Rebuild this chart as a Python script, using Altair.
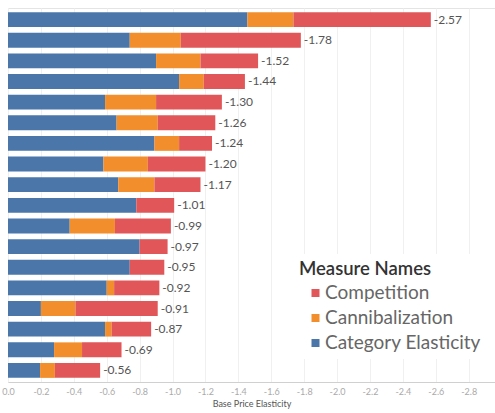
import altair as alt
import pandas as pd

rows = [f"P{i:02d}" for i in range(1, 19)]
totals = [-2.57, -1.78, -1.52, -1.44, -1.30, -1.26, -1.24, -1.20, -1.17,
          -1.01, -0.99, -0.97, -0.95, -0.92, -0.91, -0.87, -0.69, -0.56]
category_elasticity = [-1.455, -0.74, -0.90, -1.04, -0.59, -0.66, -0.89, -0.58, -0.67,
                       -0.78, -0.375, -0.80, -0.74, -0.60, -0.20, -0.59, -0.28, -0.195]
cannibalization = [-0.28, -0.31, -0.27, -0.15, -0.31, -0.25, -0.15, -0.27, -0.22,
                   0.0, -0.275, 0.0, 0.0, -0.045, -0.21, -0.04, -0.17, -0.09]
competition = [-0.835, -0.73, -0.35, -0.25, -0.40, -0.35, -0.20, -0.35, -0.28,
               -0.23, -0.34, -0.17, -0.21, -0.275, -0.50, -0.24, -0.24, -0.275]
tick_values = [0.0, -0.2, -0.4, -0.6, -0.8, -1.0, -1.2, -1.4, -1.6, -1.8,
               -2.0, -2.2, -2.4, -2.6, -2.8, -3.0]
measures = ["Competition", "Cannibalization", "Category Elasticity"]
colors = ["#e15759", "#f28e2b", "#4a76aa"]

recs = []
for i, r in enumerate(rows):
    recs.append({"row": r, "measure": "Category Elasticity", "value": category_elasticity[i], "ord": 0})
    recs.append({"row": r, "measure": "Cannibalization", "value": cannibalization[i], "ord": 1})
    recs.append({"row": r, "measure": "Competition", "value": competition[i], "ord": 2})
df = pd.DataFrame(recs)
tot = pd.DataFrame({"row": rows, "total": totals, "label": [f"{v:.2f}" for v in totals]})

FONT = "Lato"
xscale = alt.Scale(domain=[0, -2.96], nice=False, zero=False)
xaxis = alt.Axis(values=tick_values, labelOverlap=False, labelBound=False, labelFlush=False,
                 labelExpr="datum.value == 0 ? '0.0' : '-' + format(-datum.value, '.1f')",
                 title="Base Price Elasticity", ticks=False, grid=True,
                 gridColor="#f0f0f0", domainColor="#d0d0d0",
                 labelColor="#aaaaaa", labelFontSize=9, labelPadding=5,
                 titleColor="#555555", titleFontSize=9, titleFontWeight="normal",
                 titlePadding=3)
yenc = alt.Y("row:N", sort=rows,
             scale=alt.Scale(paddingInner=0.28, paddingOuter=0.2),
             axis=alt.Axis(labels=False, ticks=False, title=None, domain=False, grid=False))

bars = alt.Chart(df).mark_bar().encode(
    x=alt.X("value:Q", stack="zero", scale=xscale, axis=xaxis),
    y=yenc,
    color=alt.Color("measure:N", scale=alt.Scale(domain=measures, range=colors),
                    legend=alt.Legend(title="Measure Names", orient="none",
                                      legendX=285, legendY=246)),
    order=alt.Order("ord:Q"),
)

text = alt.Chart(tot).mark_text(align="left", baseline="middle", dx=3,
                                fontSize=12, color="#555555", font=FONT).encode(
    x=alt.X("total:Q", scale=xscale, axis=xaxis),
    y=yenc,
    text="label:N",
)

chart = alt.layer(bars, text).properties(
    width=487, height=374,
    autosize=alt.AutoSizeParams(type="none"),
    padding={"left": 8, "top": 8, "right": 0, "bottom": 31},
).configure(font=FONT).configure_view(
    stroke="#e4e4e4", strokeWidth=1
).configure_axis(labelOverlap=False).configure_legend(
    fillColor="white", padding=6, symbolType="square", symbolSize=64,
    symbolOffset=7, labelOffset=0, labelFontSize=19, labelColor="#666666",
    titleFontSize=18.5, titleColor="#333333", titleFontWeight=600, labelLimit=0,
    titlePadding=5, rowPadding=5, symbolStrokeWidth=0,
)

chart.save("out.html", embed_options={"renderer": "svg", "actions": False})
